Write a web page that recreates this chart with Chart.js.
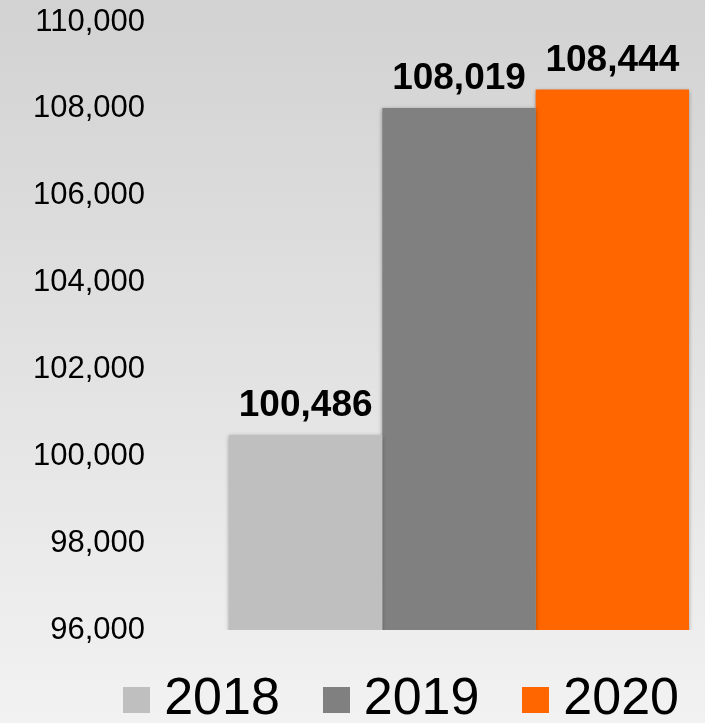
<html>
  <head>
    <script src="https://cdn.jsdelivr.net/npm/chart.js@4.4.0/dist/chart.umd.min.js"></script>
    <style>
      body { margin: 0; }
    </style>
  </head>
  <body>
    <canvas id="yearChart" width="705" height="723"></canvas>
    <script>
      var years = ["2018", "2019", "2020"];
      var values = [100486, 108019, 108444];
      var yMin = 96000;
      var yMax = 110000;
      var yStep = 2000;

      var yearColors = ["#bfbfbf", "#808080", "#ff6600"];
      var fontFamily = "'Liberation Sans', Arial, sans-serif";

      // little square swatches used as legend point styles
      var swatches = yearColors.map((c) => {
        var cv = document.createElement("canvas");
        cv.width = 27;
        cv.height = 26;
        var g = cv.getContext("2d");
        g.fillStyle = c;
        g.fillRect(0, 0, 27, 26);
        return cv;
      });

      var background = {
        id: "background",
        beforeDraw: (chart) => {
          var c = chart.ctx;
          var grad = c.createLinearGradient(0, 0, 0, chart.height);
          grad.addColorStop(0, "#d2d2d2");
          grad.addColorStop(1, "#f2f2f2");
          c.save();
          c.fillStyle = grad;
          c.fillRect(0, 0, chart.width, chart.height);
          c.restore();
        },
      };

      var barShadow = {
        id: "barShadow",
        beforeDatasetsDraw: (chart) => {
          var c = chart.ctx;
          c.save();
          c.shadowColor = "rgba(0,0,0,0.35)";
          c.shadowBlur = 4;
          c.shadowOffsetX = 0;
          c.shadowOffsetY = 1;
        },
        afterDatasetsDraw: (chart) => {
          chart.ctx.restore();
        },
      };

      var valueLabels = {
        id: "valueLabels",
        afterDraw: (chart) => {
          var c = chart.ctx;
          c.save();
          c.font = "bold 37px " + fontFamily;
          c.fillStyle = "#000";
          c.textAlign = "center";
          c.textBaseline = "alphabetic";
          chart.data.datasets.forEach((ds, i) => {
            var bar = chart.getDatasetMeta(i).data[0];
            c.fillText(ds.data[0].toLocaleString("en-US"), bar.x, bar.y - 19);
          });
          c.restore();
        },
      };

      // pull the legend up against the plot area
      var legendFit = {
        id: "legendFit",
        beforeInit: (chart) => {
          var fit = chart.legend.fit;
          chart.legend.fit = function () {
            fit.call(this);
            this.height -= 13;
          };
        },
      };

      var ctx = document.getElementById("yearChart").getContext("2d");
      var myChart = new Chart(ctx, {
        type: "bar",
        data: {
          labels: [""],
          datasets: years.map((y, i) => ({
            label: y,
            data: [values[i]],
            backgroundColor: yearColors[i],
            barPercentage: 1,
            categoryPercentage: 0.935,
          })),
        },
        options: {
          responsive: false,
          animation: false,
          layout: { padding: { top: 22, left: 0, right: 0, bottom: 0 } },
          scales: {
            x: { display: false },
            y: {
              min: yMin,
              max: yMax,
              afterFit: (scale) => {
                scale.width = 213;
              },
              grid: { display: false, drawTicks: true, tickLength: 68 },
              border: { display: false },
              ticks: {
                stepSize: yStep,
                padding: 0,
                color: "#000",
                font: { family: fontFamily, size: 31 },
                callback: (v) => v.toLocaleString("en-US"),
              },
            },
          },
          plugins: {
            tooltip: { enabled: false },
            legend: {
              position: "bottom",
              align: "end",
              // empty title only used as top spacing
              title: { display: true, text: " ", padding: 0, font: { size: 15 } },
              labels: {
                usePointStyle: true,
                pointStyleWidth: 3,
                boxHeight: 26,
                padding: 26,
                color: "#000",
                font: { family: fontFamily, size: 52 },
                generateLabels: (chart) => {
                  var items = Chart.defaults.plugins.legend.labels.generateLabels(chart);
                  items.forEach((it, i) => {
                    it.pointStyle = swatches[i];
                    if (i < items.length - 1) it.text += "  ";
                  });
                  return items;
                },
              },
            },
          },
        },
        plugins: [background, barShadow, valueLabels, legendFit],
      });
    </script>
  </body>
</html>
